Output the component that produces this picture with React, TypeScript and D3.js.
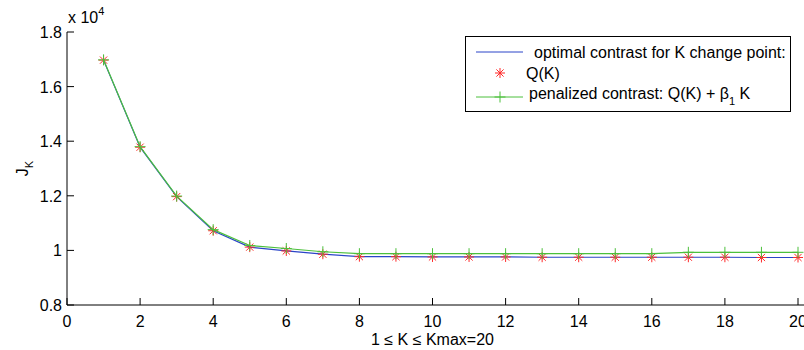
import React from 'react';
import { scaleLinear, line } from 'd3';

// K = 1..20
const kValues = [1, 2, 3, 4, 5, 6, 7, 8, 9, 10, 11, 12, 13, 14, 15, 16, 17, 18, 19, 20];
// optimal contrast Q(K), in units of 1e4
const contrast = [1.697, 1.378, 1.197, 1.072, 1.012, 0.998, 0.986, 0.977, 0.977, 0.976,
  0.976, 0.976, 0.975, 0.975, 0.975, 0.975, 0.975, 0.975, 0.974, 0.974];
// penalized contrast Q(K) + beta1 K
const penalized = [1.698, 1.380, 1.199, 1.076, 1.018, 1.007, 0.995, 0.988, 0.988, 0.988,
  0.988, 0.988, 0.988, 0.988, 0.988, 0.988, 0.993, 0.993, 0.993, 0.993];
const xTicks = [0, 2, 4, 6, 8, 10, 12, 14, 16, 18, 20];
const yTicks = [0.8, 1, 1.2, 1.4, 1.6, 1.8];

const W = 804;
const H = 350;
const font = 'Liberation Sans, Arial, Helvetica, sans-serif';
const blue = '#2a44c8';
const green = '#4cc03c';
const red = '#ff2a2a';

export default function App() {
  const x = scaleLinear().domain([0, 20]).range([67, 798]);
  const y = scaleLinear().domain([0.8, 1.8]).range([305, 32]);

  const pathGen = line<number>()
    .x((d, i) => x(kValues[i]))
    .y(d => y(d));

  const star = (cx: number, cy: number, key: string) => {
    const r = 5;
    const d = r * 0.72;
    return (
      <g key={key} stroke={red} strokeWidth={1}>
        <line x1={cx - r} y1={cy} x2={cx + r} y2={cy} />
        <line x1={cx} y1={cy - r} x2={cx} y2={cy + r} />
        <line x1={cx - d} y1={cy - d} x2={cx + d} y2={cy + d} />
        <line x1={cx - d} y1={cy + d} x2={cx + d} y2={cy - d} />
      </g>
    );
  };
  const plus = (cx: number, cy: number, key: string) => {
    const r = 5.5;
    return (
      <g key={key} stroke={green} strokeWidth={1}>
        <line x1={cx - r} y1={cy} x2={cx + r} y2={cy} />
        <line x1={cx} y1={cy - r} x2={cx} y2={cy + r} />
      </g>
    );
  };

  return (
    <svg width={W} height={H} style={{ position: 'absolute', left: 0, top: 0, background: '#fff' }}
      fontFamily={font}>
      <rect width={W} height={H} fill="#fff" />
      {/* axes */}
      <line x1={67} y1={y(1.8)} x2={67} y2={y(0.8)} stroke="#000" strokeWidth={1} />
      <line x1={67} y1={y(0.8)} x2={W} y2={y(0.8)} stroke="#000" strokeWidth={1} />
      {yTicks.map(t => (
        <g key={'y' + t}>
          <line x1={67} x2={74} y1={y(t)} y2={y(t)} stroke="#000" />
          <text x={62} y={y(t) + 6} textAnchor="end" fontSize={16}>{String(t)}</text>
        </g>
      ))}
      {xTicks.map(t => (
        <g key={'x' + t}>
          <line x1={x(t)} x2={x(t)} y1={y(0.8)} y2={y(0.8) - 7} stroke="#000" />
          <text x={x(t)} y={y(0.8) + 22} textAnchor="middle" fontSize={16}>{t}</text>
        </g>
      ))}
      <text x={68} y={23} fontSize={16}>x 10<tspan dy={-8} fontSize={11}>4</tspan></text>
      <text transform={`translate(28,${y(1.3)}) rotate(-90)`} textAnchor="middle" fontSize={16}>
        J<tspan dy={5} fontSize={11}>K</tspan>
      </text>
      <text x={x(10)} y={345} textAnchor="middle" fontSize={16}>1 ≤ K ≤ Kmax=20</text>

      {/* series */}
      <path d={pathGen(contrast) || ''} fill="none" stroke={blue} strokeWidth={1.2} />
      {contrast.map((v, i) => star(x(kValues[i]), y(v), 's' + i))}
      <path d={pathGen(penalized) || ''} fill="none" stroke={green} strokeWidth={1.2} />
      {penalized.map((v, i) => plus(x(kValues[i]), y(v), 'p' + i))}

      {/* legend */}
      <rect x={465.5} y={36.5} width={325} height={75} fill="#fff" stroke="#000" strokeWidth={1} />
      <line x1={476} x2={523} y1={52} y2={52} stroke={blue} strokeWidth={1} />
      <text x={534} y={58} fontSize={16}>optimal contrast for K change point:</text>
      {star(500, 73, 'ls')}
      <text x={526} y={79} fontSize={16}>Q(K)</text>
      <line x1={476} x2={523} y1={97} y2={97} stroke={green} strokeWidth={1} />
      {plus(500, 97, 'lp')}
      <text x={529} y={99} fontSize={16}>
        penalized contrast: Q(K) + β<tspan dy={6} fontSize={11}>1</tspan><tspan dy={-6}> K</tspan>
      </text>
    </svg>
  );
}
